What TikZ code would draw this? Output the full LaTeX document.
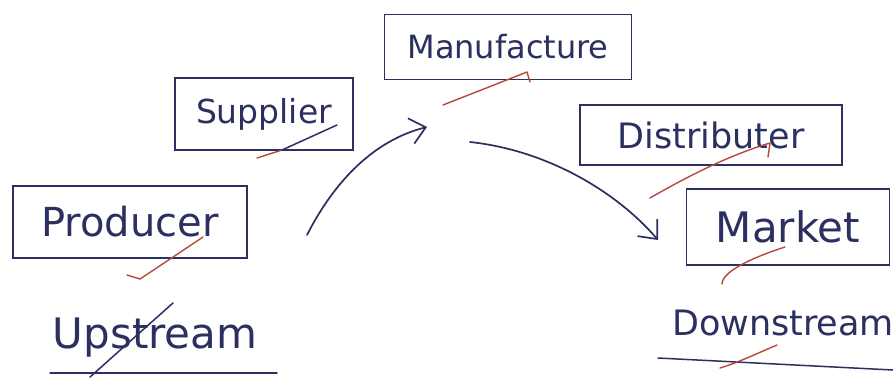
\documentclass[tikz,border=0pt]{standalone}
\usepackage{fontspec}
\setmainfont{DejaVu Sans}
\usetikzlibrary{arrows.meta}
\definecolor{ink}{HTML}{2B3060}
\definecolor{redink}{HTML}{B8463C}
\newcommand{\fsz}[1]{\fontsize{#1}{#1}\selectfont}
\begin{document}
\begin{tikzpicture}[x=1pt,y=-1pt,
  box/.style={draw=ink, line width=1.6pt, inner sep=0pt, text=ink},
  lbl/.style={text=ink, inner sep=0pt},
  tickmark/.style={draw=redink, line width=1.4pt, line cap=round, line join=round},
  inkline/.style={draw=ink, line width=1.5pt, line cap=round},
  flow/.style={draw=ink, line width=1.7pt, line cap=round,
    -{Straight Barb[length=15pt,width=26pt,line width=1.7pt]}}]
\useasboundingbox (0,0) rectangle (893,378);
\fill[white] (0,0) rectangle (893,378);

% boxes
\node[box, minimum width=234pt, minimum height=72pt, font=\fsz{40}] (producer) at (130,222) {Producer};
\node[box, minimum width=178pt, minimum height=72pt, font=\fsz{33}] (supplier) at (264,114) {Supplier};
\node[box, minimum width=247pt, minimum height=65pt, font=\fsz{32}] (manufacture) at (508,47) {Manufacture};
\node[box, minimum width=262pt, minimum height=60pt, font=\fsz{35}] (distributer) at (711,135) {Distributer};
\node[box, minimum width=203pt, minimum height=76pt, font=\fsz{42}] (market) at (788,227) {Market};

% labels
\node[lbl, font=\fsz{42}] (upstream) at (155,338) {Upstream};
\node[lbl, font=\fsz{35}] (downstream) at (783,323) {Downstream};
\draw[inkline] (50,373) -- (277,373);
\draw[inkline] (658,358) -- (893,370);
\draw[inkline] (90,377) -- (173,303);

% arrows
\coordinate (a1s) at (307,235);
\coordinate (a1e) at (427,127);
\coordinate (a2s) at (470,142);
\coordinate (a2e) at (658,240);
\draw[flow] (a1s) .. controls (335,180) and (375,140) .. (a1e);
\draw[flow] (a2s) .. controls (545,150) and (615,190) .. (a2e);

% tick marks
\draw[tickmark] (127,275) -- (140,279) -- (203,237);
\draw[tickmark] (257,158) -- (282,150);
\draw[inkline] (282,150) -- (337,125);
\draw[tickmark] (443,105) -- (527,72) -- (530,82);
\draw[tickmark] (650,198) .. controls (690,175) and (730,155) .. (770,143) -- (768,157);
\draw[tickmark] (722,284) .. controls (722,270) and (760,255) .. (785,247);
\draw[tickmark] (720,368) .. controls (740,362) and (760,352) .. (777,345);
\end{tikzpicture}
\end{document}
